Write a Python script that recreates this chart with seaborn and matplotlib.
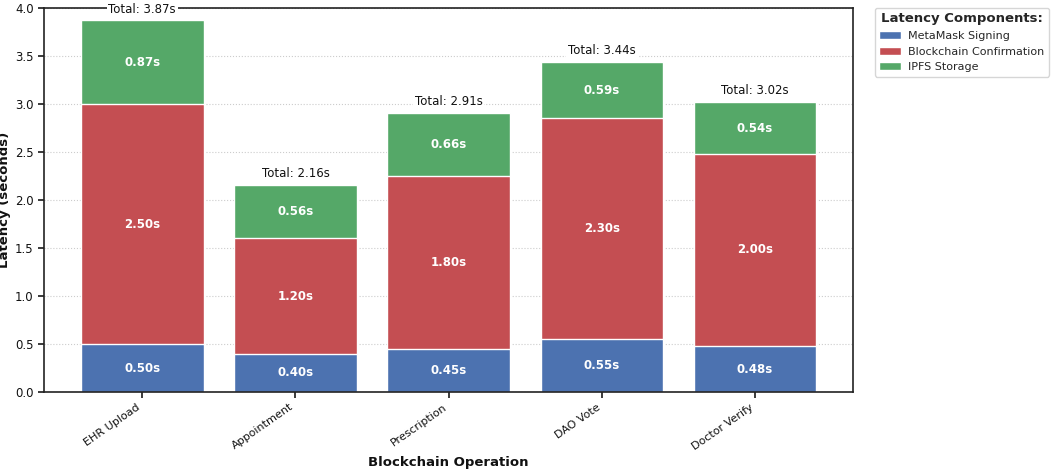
import matplotlib
matplotlib.use("Agg")
import matplotlib.pyplot as plt
import seaborn as sns
import pandas as pd
import numpy as np

operations = ["EHR Upload", "Appointment", "Prescription", "DAO Vote", "Doctor Verify"]
metamask = [0.50, 0.40, 0.45, 0.55, 0.48]
blockchain = [2.50, 1.20, 1.80, 2.30, 2.00]
ipfs = [0.87, 0.56, 0.66, 0.59, 0.54]
components = ["MetaMask Signing", "Blockchain Confirmation", "IPFS Storage"]

sns.set_theme(style="ticks")
plt.rcParams["font.family"] = ["DejaVu Sans"]
pal = sns.color_palette("deep")
colors = [pal[0], pal[3], pal[2]]

m = np.array(metamask)
b = np.array(blockchain)
g = np.array(ipfs)
totals = m + b + g

df = pd.DataFrame({"op": operations, "m": m, "mb": m + b, "tot": totals})

fig, ax = plt.subplots(figsize=(10.52, 4.69), dpi=100)
fig.subplots_adjust(left=0.042, right=0.811, top=0.983, bottom=0.164)

for col, c, lab in [("tot", colors[2], components[2]), ("mb", colors[1], components[1]), ("m", colors[0], components[0])]:
    sns.barplot(data=df, x="op", y=col, color=c, ax=ax, width=0.8,
                edgecolor="white", linewidth=1, label=lab, saturation=1)

ax.set_xlim(-0.64, 4.64)
ax.set_ylim(0, 4.0)
ax.set_yticks(np.arange(0, 4.01, 0.5))

lab_kw = dict(ha="center", va="center", color="white", fontsize=8.5, fontweight="bold")
for i in range(len(operations)):
    ax.text(i, m[i] / 2, f"{m[i]:.2f}s", **lab_kw)
    ax.text(i, m[i] + b[i] / 2, f"{b[i]:.2f}s", **lab_kw)
    ax.text(i, m[i] + b[i] + g[i] / 2, f"{g[i]:.2f}s", **lab_kw)
    ax.text(i, totals[i] + 0.05, f"Total: {totals[i]:.2f}s", ha="center", va="bottom", fontsize=8.5,
            color="#111111", bbox=dict(boxstyle="square,pad=0.15", facecolor="white", edgecolor="none"))

ax.yaxis.grid(True, linestyle=":", linewidth=0.8, color="#cccccc")
ax.set_axisbelow(True)
for s in ax.spines.values():
    s.set_color("#222222")
    s.set_linewidth(1.2)
ax.tick_params(axis="both", labelsize=8.5, color="#222222", labelcolor="#111111", length=4)
ax.tick_params(axis="x", pad=3, labelsize=8)
plt.setp(ax.get_xticklabels(), rotation=35, ha="right")
ax.set_xlabel("Blockchain Operation", fontsize=9.5, fontweight="bold", color="#111111", labelpad=3)
ax.set_ylabel("Latency (seconds)", fontsize=9.5, fontweight="bold", color="#111111", labelpad=3)

handles, labels = ax.get_legend_handles_labels()
order = [labels.index(c) for c in components]
leg = ax.legend([handles[k] for k in order], components, title="Latency Components:",
                loc="upper left", bbox_to_anchor=(1.027, 1.0), borderaxespad=0, fontsize=8,
                title_fontproperties={"weight": "bold", "size": 9.5}, frameon=True,
                handlelength=1.9, handletextpad=0.7, borderpad=0.4, labelspacing=0.5)
leg.get_frame().set_edgecolor("#cccccc")

fig.savefig("out.png", dpi=100)
